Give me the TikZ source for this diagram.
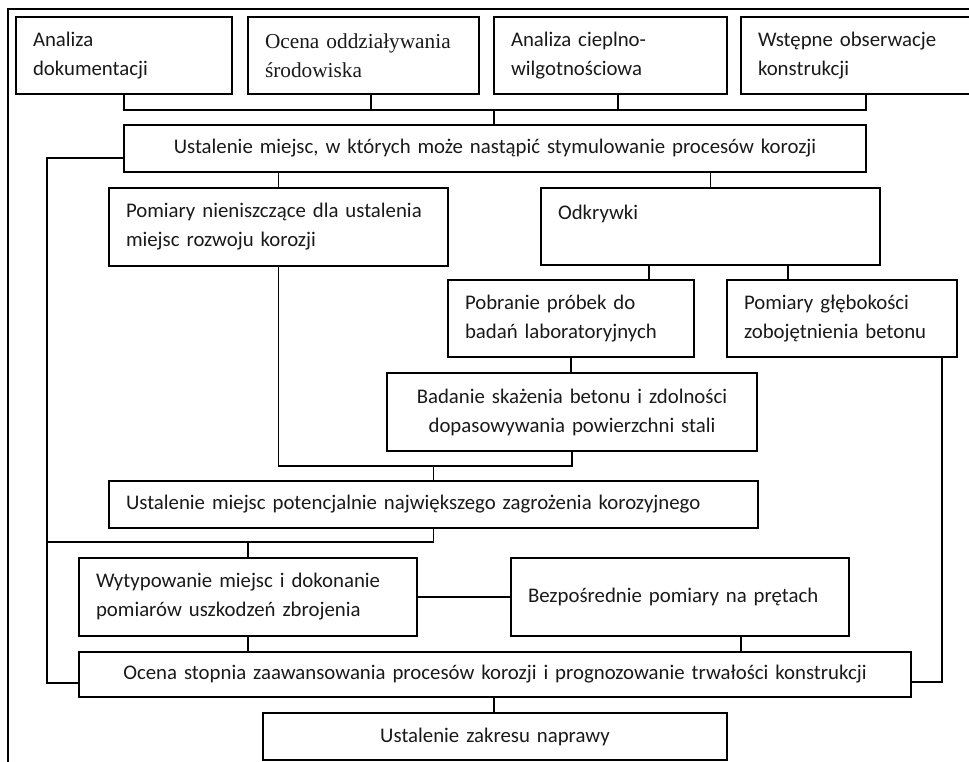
\documentclass[tikz,border=0pt]{standalone}
\usepackage{fontspec}
\newfontfamily\calibri{Carlito}
\newfontfamily\cambria{Liberation Serif}
\usetikzlibrary{calc}
\begin{document}
\begin{tikzpicture}[x=1pt,y=-1pt,
  box/.style={draw, line width=1.4pt, inner xsep=17pt, inner ysep=0pt,
    text=black!90, font=\calibri\fontsize{20.8}{29}\selectfont, align=left},
  mid/.style={box, align=center},
  line/.style={line width=1.4pt}]
\clip (0,0) rectangle (969,762);
\draw[line] (8,800) -- (8,9) -- (1000,9);% outer frame
% top row
\node[box, text width=182, minimum height=77] (analiza) at (124,55.5) {Analiza\\dokumentacji};
\node[box, text width=197, minimum height=77, font=\cambria\fontsize{21.3}{29}\selectfont] (ocena) at (363.5,55.5) {Ocena oddziaływania\\środowiska};
\node[box, text width=199, minimum height=77] (cieplno) at (610.5,55.5) {Analiza cieplno-\\wilgotnościowa};
\node[box, text width=210, minimum height=77] (wstepne) at (863,55.5) {Wstępne obserwacje\\konstrukcji};
\node[mid, text width=708, minimum height=47] (miejsca) at (495,148.5) {Ustalenie miejsc, w których może nastąpić stymulowanie procesów korozji};
% middle
\node[box, text width=305, minimum height=78] (nieniszcz) at (278.5,227) {Pomiary nieniszczące dla ustalenia\\miejsc rozwoju korozji};
\node[box, text width=305, minimum height=77] (odkrywki) at (710.5,226.5) {Odkrywki\\~};
\node[box, text width=212, minimum height=77] (probki) at (571,318.5) {Pobranie próbek do\\badań laboratoryjnych};
\node[box, text width=196, minimum height=77] (glebokosc) at (842,318.5) {Pomiary głębokości\\zobojętnienia betonu};
\node[mid, text width=336, minimum height=78] (skazenie) at (572,412) {Badanie skażenia betonu i zdolności\\dopasowywania powierzchni stali};
\node[box, text width=615, minimum height=47] (zagrozenie) at (433.5,504.5) {Ustalenie miejsc potencjalnie największego zagrożenia korozyjnego};
% bottom
\node[box, text width=304, minimum height=78] (wytyp) at (248,597) {Wytypowanie miejsc i dokonanie\\pomiarów uszkodzeń zbrojenia};
\node[box, text width=304, minimum height=78] (prety) at (680,597) {Bezpośrednie pomiary na prętach};
\node[mid, text width=798, minimum height=45] (stopien) at (495,674.5) {Ocena stopnia zaawansowania procesów korozji i prognozowanie trwałości konstrukcji};
\node[mid, text width=430, minimum height=47] (naprawa) at (495,736.5) {Ustalenie zakresu naprawy};
% connectors
\coordinate (bus) at (0,110);
\coordinate (lft) at (47,0);
\coordinate (j1) at (0,466);
\coordinate (j2) at (0,542);
\draw[line] (analiza.south) |- ([xshift=3pt]wstepne.south |- bus) -- ([xshift=3pt]wstepne.south);
\draw[line] ([xshift=7.5pt]ocena.south) -- ([xshift=7.5pt]ocena.south |- bus);
\draw[line] ([xshift=7.5pt]cieplno.south) -- ([xshift=7.5pt]cieplno.south |- bus);
\draw[line] ([xshift=-1pt]miejsca.north) -- ([xshift=-1pt]miejsca.north |- bus);
\draw[line] ([yshift=-9.5pt]miejsca.west) -| ([yshift=-8.5pt]stopien.west -| lft) -- ([yshift=-8.5pt]stopien.west);
\draw[line] (nieniszcz.north |- miejsca.south) -- (nieniszcz.north);
\draw[line] (odkrywki.north |- miejsca.south) -- (odkrywki.north);
\draw[line] ([xshift=-61.5pt]odkrywki.south) -- ([xshift=-61.5pt]odkrywki.south |- probki.north);
\draw[line] ([xshift=77.5pt]odkrywki.south) -- ([xshift=77.5pt]odkrywki.south |- glebokosc.north);
\draw[line] (probki.south) -- (probki.south |- skazenie.north);
\draw[line] (nieniszcz.south) |- (skazenie.south |- j1) -- (skazenie.south);
\draw[line] (zagrozenie.north |- j1) -- (zagrozenie.north);
\draw[line] (zagrozenie.south) |- (lft |- j2);
\draw[line] (wytyp.north |- j2) -- (wytyp.north);
\draw[line] (wytyp) -- (prety);
\draw[line] (wytyp.south) -- (wytyp.south |- stopien.north);
\draw[line] ([xshift=61pt]prety.south) -- ([xshift=61pt]prety.south |- stopien.north);
\draw[line] ([xshift=100pt]glebokosc.south) |- ([yshift=-7.5pt]stopien.east);
\draw[line] ([xshift=-1pt]stopien.south) -- ([xshift=-1pt]stopien.south |- naprawa.north);
\end{tikzpicture}
\end{document}
